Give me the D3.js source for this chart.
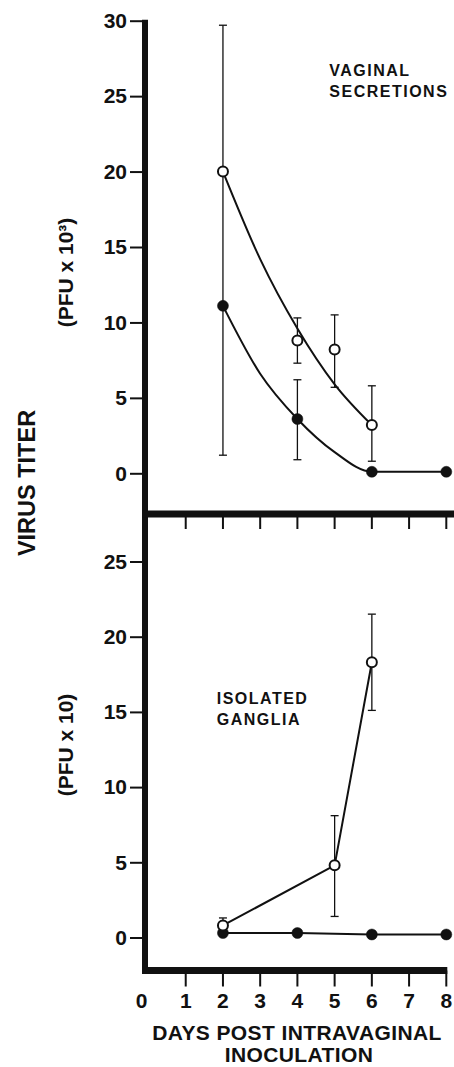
<!DOCTYPE html>
<html>
<head>
<meta charset="utf-8">
<script src="https://cdn.jsdelivr.net/npm/d3@7"></script>
<style>
  body { margin: 0; background: #fff; }
  text { font-family: "Liberation Sans", Arial, sans-serif; font-weight: bold; fill: #111; }
  .tick text { font-size: 21px; }
</style>
</head>
<body>
<svg id="chart" width="454" height="1067"></svg>
<script>
// top panel: vaginal secretions (PFU x 10^3)
const vagOpenDays = [2, 4, 5, 6];
const vagOpen = [20, 8.8, 8.2, 3.2];
const vagOpenLo = [20, 7.3, 5.7, 0.8];
const vagOpenHi = [29.7, 10.3, 10.5, 5.8];
const vagFilledDays = [2, 4, 6, 8];
const vagFilled = [11.1, 3.6, 0.1, 0.1];
const vagFilledLo = [1.2, 0.9, 0.1, 0.1];
const vagFilledHi = [20, 6.2, 0.1, 0.1];
// fitted curves as drawn in the figure
const vagOpenFitDays = [2, 3, 4, 5, 6];
const vagOpenFit = [20, 14.2, 9.6, 5.9, 3.2];
const vagFilledFitDays = [2, 3, 4, 5, 6, 7, 8];
const vagFilledFit = [11.1, 6.6, 3.6, 1.4, 0.1, 0.1, 0.1];

// bottom panel: isolated ganglia (PFU x 10)
const gangOpenDays = [2, 5, 6];
const gangOpen = [0.8, 4.8, 18.3];
const gangOpenLo = [0.8, 1.4, 15.1];
const gangOpenHi = [1.3, 8.1, 21.5];
const gangFilledDays = [2, 4, 6, 8];
const gangFilled = [0.3, 0.3, 0.2, 0.2];

const dayTicks = [0, 1, 2, 3, 4, 5, 6, 7, 8];
const topTicks = [0, 5, 10, 15, 20, 25, 30];
const botTicks = [0, 5, 10, 15, 20, 25];

const ink = "#111";
const svg = d3.select("#chart");

const x = d3.scaleLinear().domain([0, 8]).range([148.5, 446.3]);
const yTop = d3.scaleLinear().domain([0, 30]).range([473.3, 20.7]);
const yBot = d3.scaleLinear().domain([0, 25]).range([937.5, 561.5]);

const axisX = 145;
const sepY = 514;
const baseY = 970.5;

// y axes (ticks + labels)
function yAxis(scale, ticks) {
  const g = svg.append("g")
    .attr("transform", `translate(${axisX - 1},0)`)
    .call(d3.axisLeft(scale).tickValues(ticks).tickSize(14).tickPadding(3).tickSizeOuter(0));
  g.select(".domain").remove();
  g.selectAll(".tick line").attr("stroke", ink).attr("stroke-width", 2);
  g.selectAll(".tick text").attr("fill", ink);
}
yAxis(yTop, topTicks);
yAxis(yBot, botTicks);

// thick frame lines
svg.append("line")
  .attr("x1", axisX).attr("x2", axisX)
  .attr("y1", yTop(30) - 1).attr("y2", baseY + 3.5)
  .attr("stroke", ink).attr("stroke-width", 6);
svg.append("line")
  .attr("x1", 142).attr("x2", 454)
  .attr("y1", sepY).attr("y2", sepY)
  .attr("stroke", ink).attr("stroke-width", 7);
svg.append("line")
  .attr("x1", 142).attr("x2", x(8) + 1)
  .attr("y1", baseY).attr("y2", baseY)
  .attr("stroke", ink).attr("stroke-width", 7);

// day ticks under the separator and under the bottom axis
const dayMarks = dayTicks.filter(d => d > 0);
svg.append("g").selectAll("line")
  .data(dayMarks).join("line")
  .attr("x1", d => x(d)).attr("x2", d => x(d))
  .attr("y1", sepY).attr("y2", sepY + 15)
  .attr("stroke", ink).attr("stroke-width", 2);
svg.append("g").selectAll("line")
  .data(dayMarks).join("line")
  .attr("x1", d => x(d)).attr("x2", d => x(d))
  .attr("y1", baseY).attr("y2", baseY + 16)
  .attr("stroke", ink).attr("stroke-width", 2);
svg.append("g").selectAll("text")
  .data(dayTicks).join("text")
  .attr("x", d => d === 0 ? x(d) - 7 : x(d))
  .attr("y", 1008)
  .attr("text-anchor", "middle")
  .attr("font-size", 21)
  .text(d => d);

// axis titles
svg.append("text")
  .attr("x", 297).attr("y", 1040)
  .attr("text-anchor", "middle").attr("font-size", 21)
  .attr("letter-spacing", 0.4)
  .text("DAYS POST INTRAVAGINAL");
svg.append("text")
  .attr("x", 299).attr("y", 1062)
  .attr("text-anchor", "middle").attr("font-size", 21)
  .attr("letter-spacing", 0.4)
  .text("INOCULATION");
svg.append("text")
  .attr("transform", "translate(34.5,483) rotate(-90)")
  .attr("text-anchor", "middle").attr("font-size", 23.5)
  .text("VIRUS TITER");
svg.append("text")
  .attr("transform", "translate(73.3,272.5) rotate(-90)")
  .attr("text-anchor", "middle").attr("font-size", 21)
  .text("(PFU x 10³)");
svg.append("text")
  .attr("transform", "translate(73.3,745) rotate(-90)")
  .attr("text-anchor", "middle").attr("font-size", 21)
  .text("(PFU x 10)");

// panel labels
function label(lines, lx, ly) {
  svg.append("g").selectAll("text")
    .data(lines).join("text")
    .attr("x", lx).attr("y", (d, i) => ly + i * 21)
    .attr("font-size", 16)
    .attr("letter-spacing", 1.5)
    .text(d => d);
}
label(["VAGINAL", "SECRETIONS"], 329.3, 75.5);
label(["ISOLATED", "GANGLIA"], 216.7, 703.5);

// drawing helpers
function errorBars(days, lo, hi, y) {
  const g = svg.append("g").attr("stroke", ink).attr("stroke-width", 1.3);
  days.forEach((d, i) => {
    if (lo[i] === hi[i]) return;
    g.append("line").attr("x1", x(d)).attr("x2", x(d)).attr("y1", y(lo[i])).attr("y2", y(hi[i]));
    g.append("line").attr("x1", x(d) - 4).attr("x2", x(d) + 4).attr("y1", y(lo[i])).attr("y2", y(lo[i]));
    g.append("line").attr("x1", x(d) - 4).attr("x2", x(d) + 4).attr("y1", y(hi[i])).attr("y2", y(hi[i]));
  });
}
function curve(days, vals, y, c) {
  svg.append("path")
    .datum(days.map((d, i) => [d, vals[i]]))
    .attr("fill", "none").attr("stroke", ink).attr("stroke-width", 2)
    .attr("d", d3.line().x(p => x(p[0])).y(p => y(p[1])).curve(c));
}
function dots(days, vals, y, open) {
  svg.append("g").selectAll("circle")
    .data(days.map((d, i) => [d, vals[i]])).join("circle")
    .attr("cx", p => x(p[0])).attr("cy", p => y(p[1]))
    .attr("r", open ? 5 : 5.5)
    .attr("fill", open ? "#fff" : ink)
    .attr("stroke", ink).attr("stroke-width", open ? 2 : 0.5);
}

// top panel
errorBars(vagFilledDays, vagFilledLo, vagFilledHi, yTop);
errorBars(vagOpenDays, vagOpenLo, vagOpenHi, yTop);
curve(vagOpenFitDays, vagOpenFit, yTop, d3.curveMonotoneX);
curve(vagFilledFitDays, vagFilledFit, yTop, d3.curveMonotoneX);
dots(vagFilledDays, vagFilled, yTop, false);
dots(vagOpenDays, vagOpen, yTop, true);

// bottom panel
errorBars(gangOpenDays, gangOpenLo, gangOpenHi, yBot);
curve(gangFilledDays, gangFilled, yBot, d3.curveLinear);
curve(gangOpenDays, gangOpen, yBot, d3.curveLinear);
dots(gangFilledDays, gangFilled, yBot, false);
dots(gangOpenDays, gangOpen, yBot, true);
</script>
</body>
</html>
